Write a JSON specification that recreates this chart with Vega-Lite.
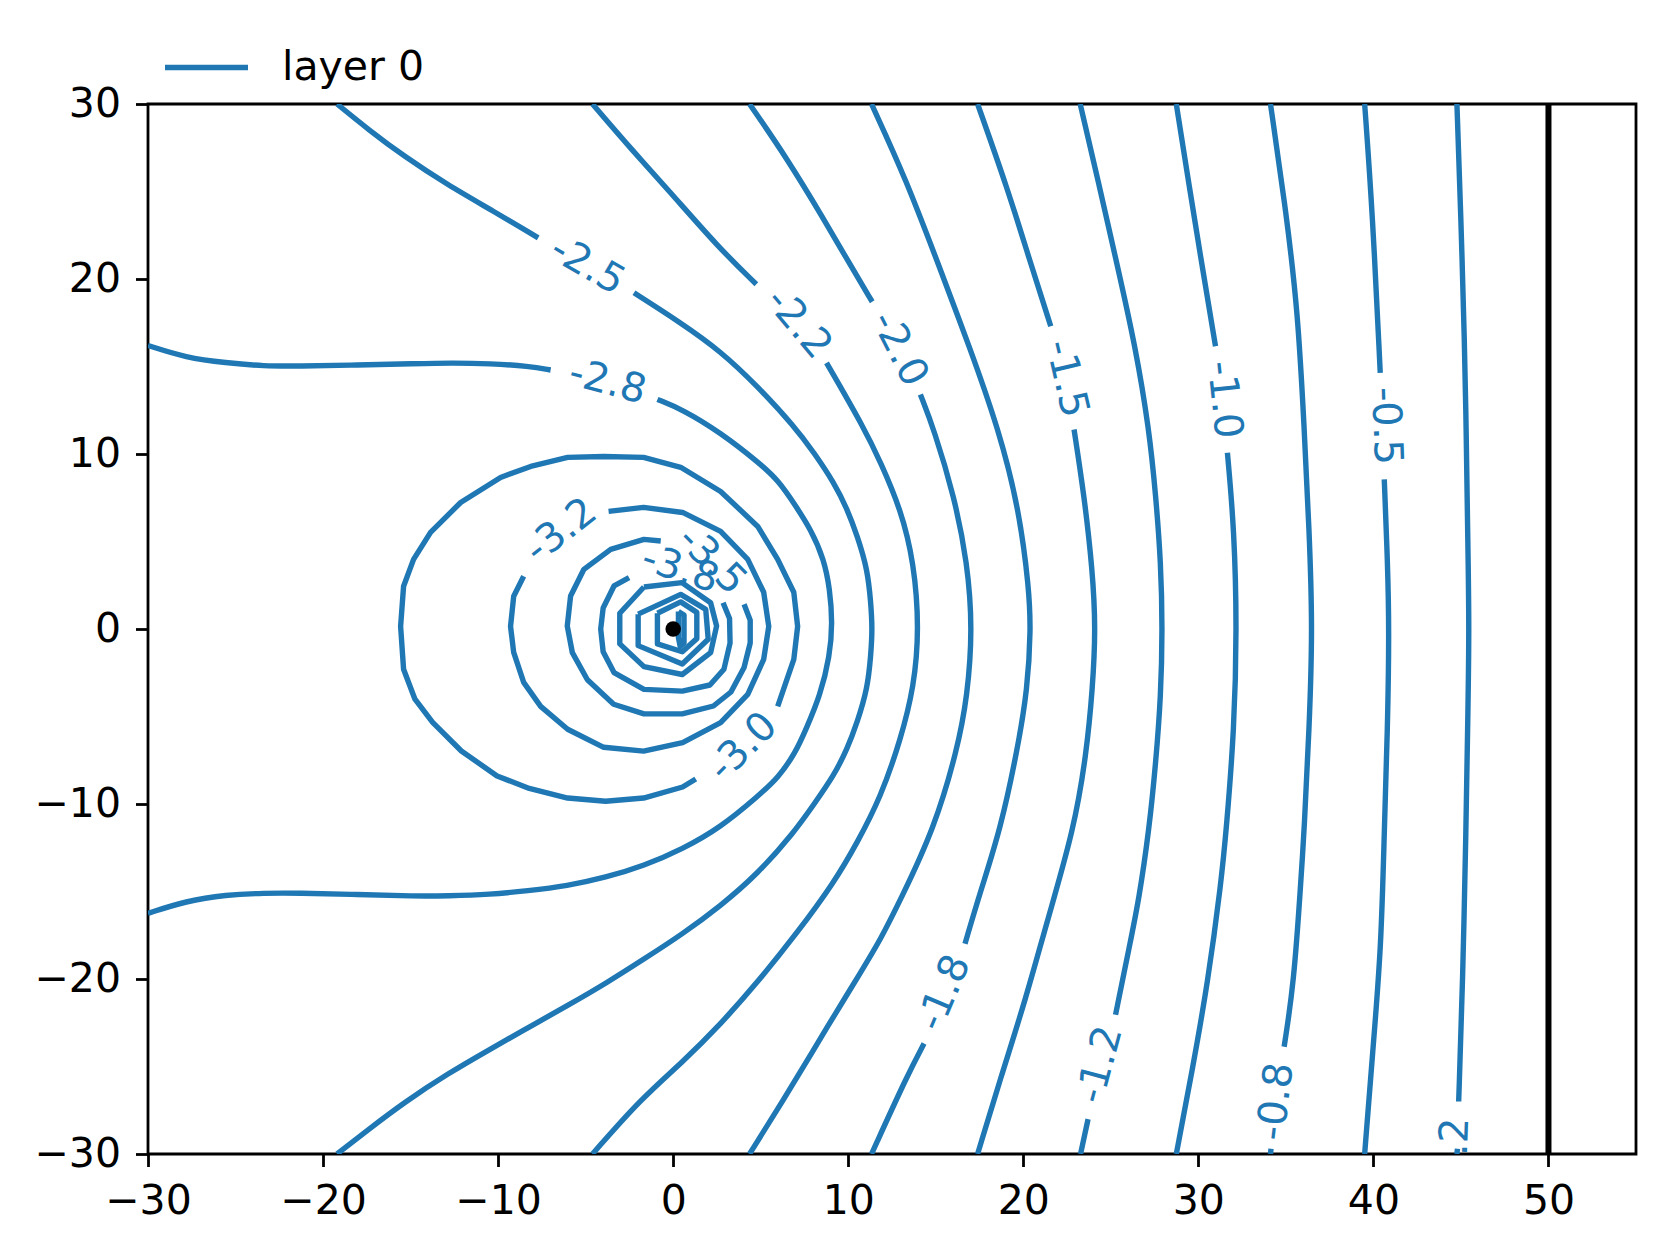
{
"$schema": "https://vega.github.io/schema/vega-lite/v6.json",
"width": 1488, "height": 1050,
"autosize": {"type": "none"},
"padding": {"left": 148, "top": 104, "right": 29, "bottom": 102},
"background": "white",
"config": {
  "view": {"stroke": "black", "strokeWidth": 2.8},
  "axis": {"domain": false, "grid": false, "tickColor": "black", "tickWidth": 2.8, "tickSize": 12.5, "labelFont": "DejaVu Sans", "labelFontSize": 41, "labelColor": "black", "labelPadding": 15, "title": null, "labelFlush": false, "labelOverlap": false, "labelBound": false},
  "text": {"font": "DejaVu Sans", "fontSize": 40, "color": "#1f77b4", "align": "center", "baseline": "middle"}
},
"datasets": {
"lines": [
{"seg":"L02a","i":0,"x":44.77,"y":30},{"seg":"L02a","i":1,"x":44.99,"y":23.78},{"seg":"L02a","i":2,"x":45.21,"y":16.16},{"seg":"L02a","i":3,"x":45.3,"y":11.4},{"seg":"L02a","i":4,"x":45.38,"y":5.69},{"seg":"L02a","i":5,"x":45.48,"y":0},{"seg":"L02a","i":6,"x":45.38,"y":-5.73},{"seg":"L02a","i":7,"x":45.29,"y":-11.44},{"seg":"L02a","i":8,"x":45.1,"y":-20.22},{"seg":"L02a","i":9,"x":44.87,"y":-27.0},
{"seg":"L02b","i":0,"x":44.8,"y":-29.7},{"seg":"L02b","i":1,"x":44.77,"y":-30},
{"seg":"L05a","i":0,"x":39.5,"y":30},{"seg":"L05a","i":1,"x":39.95,"y":23.78},{"seg":"L05a","i":2,"x":40.39,"y":14.64},
{"seg":"L05b","i":0,"x":40.62,"y":8.55},{"seg":"L05b","i":1,"x":40.81,"y":3.79},{"seg":"L05b","i":2,"x":40.9,"y":0},{"seg":"L05b","i":3,"x":40.81,"y":-5.73},{"seg":"L05b","i":4,"x":40.62,"y":-11.44},{"seg":"L05b","i":5,"x":40.45,"y":-18.19},{"seg":"L05b","i":6,"x":39.95,"y":-24.27},{"seg":"L05b","i":7,"x":39.5,"y":-30},
{"seg":"L08a","i":0,"x":34.12,"y":30},{"seg":"L08a","i":1,"x":35.02,"y":23.78},{"seg":"L08a","i":2,"x":35.69,"y":18.07},{"seg":"L08a","i":3,"x":36.05,"y":11.4},{"seg":"L08a","i":4,"x":36.33,"y":5.69},{"seg":"L08a","i":5,"x":36.53,"y":0},{"seg":"L08a","i":6,"x":36.33,"y":-5.73},{"seg":"L08a","i":7,"x":36.05,"y":-11.44},{"seg":"L08a","i":8,"x":35.85,"y":-14.5},{"seg":"L08a","i":9,"x":35.46,"y":-20.22},{"seg":"L08a","i":10,"x":34.9,"y":-23.87},
{"seg":"L08b","i":0,"x":34.15,"y":-29.7},{"seg":"L08b","i":1,"x":34.12,"y":-30},
{"seg":"L10a","i":0,"x":28.74,"y":30},{"seg":"L10a","i":1,"x":29.42,"y":25.68},{"seg":"L10a","i":2,"x":30.09,"y":21.5},{"seg":"L10a","i":3,"x":30.98,"y":16.16},
{"seg":"L10b","i":0,"x":31.66,"y":10.07},{"seg":"L10b","i":1,"x":32.05,"y":5.69},{"seg":"L10b","i":2,"x":32.2,"y":0},{"seg":"L10b","i":3,"x":32.05,"y":-5.73},{"seg":"L10b","i":4,"x":31.6,"y":-11.44},{"seg":"L10b","i":5,"x":31.3,"y":-14.5},{"seg":"L10b","i":6,"x":30.54,"y":-20.22},{"seg":"L10b","i":7,"x":29.64,"y":-25.28},{"seg":"L10b","i":8,"x":28.74,"y":-30},
{"seg":"L12a","i":0,"x":23.25,"y":30},{"seg":"L12a","i":1,"x":24.26,"y":25.68},{"seg":"L12a","i":2,"x":25.38,"y":20.73},{"seg":"L12a","i":3,"x":26.4,"y":16.16},{"seg":"L12a","i":4,"x":27.19,"y":11.4},{"seg":"L12a","i":5,"x":27.57,"y":7.6},{"seg":"L12a","i":6,"x":27.86,"y":3.79},{"seg":"L12a","i":7,"x":27.95,"y":0},{"seg":"L12a","i":8,"x":27.86,"y":-3.82},{"seg":"L12a","i":9,"x":27.57,"y":-7.63},{"seg":"L12a","i":10,"x":27.19,"y":-11.44},{"seg":"L12a","i":11,"x":26.6,"y":-15.5},{"seg":"L12a","i":12,"x":26.05,"y":-18.19},{"seg":"L12a","i":13,"x":25.27,"y":-22.04},
{"seg":"L12b","i":0,"x":23.7,"y":-28.01},{"seg":"L12b","i":1,"x":23.27,"y":-30},
{"seg":"L15a","i":0,"x":17.39,"y":30},{"seg":"L15a","i":1,"x":19.12,"y":25.11},{"seg":"L15a","i":2,"x":20.35,"y":21.11},{"seg":"L15a","i":3,"x":21.57,"y":17.3},
{"seg":"L15b","i":0,"x":22.9,"y":11.4},{"seg":"L15b","i":1,"x":23.48,"y":7.6},{"seg":"L15b","i":2,"x":23.95,"y":3.41},{"seg":"L15b","i":3,"x":24.14,"y":0},{"seg":"L15b","i":4,"x":23.95,"y":-3.5},{"seg":"L15b","i":5,"x":23.61,"y":-7.08},{"seg":"L15b","i":6,"x":22.9,"y":-11.44},{"seg":"L15b","i":7,"x":21.37,"y":-16.66},{"seg":"L15b","i":8,"x":20.14,"y":-21.15},{"seg":"L15b","i":9,"x":18.71,"y":-25.64},{"seg":"L15b","i":10,"x":17.39,"y":-30},
{"seg":"L18a","i":0,"x":11.33,"y":30},{"seg":"L18a","i":1,"x":13.3,"y":25.7},{"seg":"L18a","i":2,"x":15.2,"y":20.7},{"seg":"L18a","i":3,"x":16.9,"y":16.2},{"seg":"L18a","i":4,"x":18.6,"y":11.4},{"seg":"L18a","i":5,"x":19.76,"y":6.84},{"seg":"L18a","i":6,"x":20.33,"y":2.27},{"seg":"L18a","i":7,"x":20.43,"y":0},{"seg":"L18a","i":8,"x":20.24,"y":-3.44},{"seg":"L18a","i":9,"x":19.67,"y":-6.87},{"seg":"L18a","i":10,"x":18.7,"y":-11.44},{"seg":"L18a","i":11,"x":17.55,"y":-15.0},{"seg":"L18a","i":12,"x":16.67,"y":-17.98},
{"seg":"L18b","i":0,"x":14.33,"y":-23.69},{"seg":"L18b","i":1,"x":13.41,"y":-25.43},{"seg":"L18b","i":2,"x":11.33,"y":-30},
{"seg":"L20a","i":0,"x":4.36,"y":30},{"seg":"L20a","i":1,"x":6.5,"y":26.9},{"seg":"L20a","i":2,"x":8.62,"y":23.4},{"seg":"L20a","i":3,"x":10.0,"y":21.0},{"seg":"L20a","i":4,"x":11.37,"y":18.7},
{"seg":"L20b","i":0,"x":14.12,"y":13.4},{"seg":"L20b","i":1,"x":14.9,"y":11.4},{"seg":"L20b","i":2,"x":16.05,"y":7.6},{"seg":"L20b","i":3,"x":16.81,"y":3.79},{"seg":"L20b","i":4,"x":17.1,"y":0},{"seg":"L20b","i":5,"x":16.81,"y":-3.82},{"seg":"L20b","i":6,"x":16.24,"y":-6.87},{"seg":"L20b","i":7,"x":14.9,"y":-11.44},{"seg":"L20b","i":8,"x":13.0,"y":-15.44},{"seg":"L20b","i":9,"x":11.86,"y":-17.72},{"seg":"L20b","i":10,"x":10.71,"y":-19.62},{"seg":"L20b","i":11,"x":9.19,"y":-22.1},{"seg":"L20b","i":12,"x":8.05,"y":-24.0},{"seg":"L20b","i":13,"x":6.33,"y":-26.86},{"seg":"L20b","i":14,"x":4.36,"y":-30},
{"seg":"L22a","i":0,"x":-4.61,"y":30},{"seg":"L22a","i":1,"x":-2.31,"y":27.32},{"seg":"L22a","i":2,"x":-0.26,"y":25.07},{"seg":"L22a","i":3,"x":2.59,"y":21.8},{"seg":"L22a","i":4,"x":4.75,"y":19.7},
{"seg":"L22b","i":0,"x":8.76,"y":15.21},{"seg":"L22b","i":1,"x":10.9,"y":11.5},{"seg":"L22b","i":2,"x":11.86,"y":9.5},{"seg":"L22b","i":3,"x":13.0,"y":6.84},{"seg":"L22b","i":4,"x":13.76,"y":3.79},{"seg":"L22b","i":5,"x":14.05,"y":0},{"seg":"L22b","i":6,"x":13.76,"y":-3.3},{"seg":"L22b","i":7,"x":13.0,"y":-6.3},{"seg":"L22b","i":8,"x":11.86,"y":-9.6},{"seg":"L22b","i":9,"x":10.52,"y":-12.2},{"seg":"L22b","i":10,"x":9.19,"y":-14.49},{"seg":"L22b","i":11,"x":7.1,"y":-17.34},{"seg":"L22b","i":12,"x":4.81,"y":-20.2},{"seg":"L22b","i":13,"x":2.71,"y":-22.58},{"seg":"L22b","i":14,"x":0.52,"y":-24.77},{"seg":"L22b","i":15,"x":-1.86,"y":-26.86},{"seg":"L22b","i":16,"x":-4.61,"y":-30},
{"seg":"L25a","i":0,"x":-19.2,"y":30},{"seg":"L25a","i":1,"x":-17.41,"y":28.54},{"seg":"L25a","i":2,"x":-15.37,"y":27.01},{"seg":"L25a","i":3,"x":-12.92,"y":25.4},{"seg":"L25a","i":4,"x":-10.26,"y":23.87},{"seg":"L25a","i":5,"x":-7.71,"y":22.35},
{"seg":"L25b","i":0,"x":-2.24,"y":19.21},{"seg":"L25b","i":1,"x":0.43,"y":17.5},{"seg":"L25b","i":2,"x":2.71,"y":15.88},{"seg":"L25b","i":3,"x":4.81,"y":13.88},{"seg":"L25b","i":4,"x":6.9,"y":11.6},{"seg":"L25b","i":5,"x":8.05,"y":10.07},{"seg":"L25b","i":6,"x":9.19,"y":8.36},{"seg":"L25b","i":7,"x":9.95,"y":6.84},{"seg":"L25b","i":8,"x":10.52,"y":5.31},{"seg":"L25b","i":9,"x":11.1,"y":3.41},{"seg":"L25b","i":10,"x":11.29,"y":1.5},{"seg":"L25b","i":11,"x":11.38,"y":0},{"seg":"L25b","i":12,"x":11.29,"y":-1.5},{"seg":"L25b","i":13,"x":11.1,"y":-3.41},{"seg":"L25b","i":14,"x":10.52,"y":-5.31},{"seg":"L25b","i":15,"x":9.95,"y":-6.84},{"seg":"L25b","i":16,"x":9.19,"y":-8.36},{"seg":"L25b","i":17,"x":8.05,"y":-10.0},{"seg":"L25b","i":18,"x":6.9,"y":-11.63},{"seg":"L25b","i":19,"x":4.81,"y":-14.01},{"seg":"L25b","i":20,"x":2.71,"y":-15.82},{"seg":"L25b","i":21,"x":0.52,"y":-17.44},{"seg":"L25b","i":22,"x":-1.67,"y":-18.86},{"seg":"L25b","i":23,"x":-3.76,"y":-20.2},{"seg":"L25b","i":24,"x":-6.05,"y":-21.53},{"seg":"L25b","i":25,"x":-8.22,"y":-22.74},{"seg":"L25b","i":26,"x":-10.26,"y":-23.9},{"seg":"L25b","i":27,"x":-12.92,"y":-25.43},{"seg":"L25b","i":28,"x":-15.37,"y":-27.06},{"seg":"L25b","i":29,"x":-17.41,"y":-28.6},{"seg":"L25b","i":30,"x":-19.2,"y":-30},
{"seg":"L28a","i":0,"x":-30,"y":16.2},{"seg":"L28a","i":1,"x":-27.82,"y":15.5},{"seg":"L28a","i":2,"x":-25.57,"y":15.21},{"seg":"L28a","i":3,"x":-23.33,"y":15.02},{"seg":"L28a","i":4,"x":-21.49,"y":15.02},{"seg":"L28a","i":5,"x":-18.02,"y":15.08},{"seg":"L28a","i":6,"x":-14.75,"y":15.16},{"seg":"L28a","i":7,"x":-12.71,"y":15.21},{"seg":"L28a","i":8,"x":-10.47,"y":15.17},{"seg":"L28a","i":9,"x":-8.22,"y":15.02},{"seg":"L28a","i":10,"x":-7.0,"y":14.8},
{"seg":"L28b","i":0,"x":-0.9,"y":13.12},{"seg":"L28b","i":1,"x":0.52,"y":12.55},{"seg":"L28b","i":2,"x":2.71,"y":11.22},{"seg":"L28b","i":3,"x":4.9,"y":9.5},{"seg":"L28b","i":4,"x":6.0,"y":8.5},{"seg":"L28b","i":5,"x":7.0,"y":7.03},{"seg":"L28b","i":6,"x":7.86,"y":5.69},{"seg":"L28b","i":7,"x":8.62,"y":3.98},{"seg":"L28b","i":8,"x":8.95,"y":2.27},{"seg":"L28b","i":9,"x":9.1,"y":0.36},{"seg":"L28b","i":10,"x":8.95,"y":-1.54},{"seg":"L28b","i":11,"x":8.4,"y":-3.8},{"seg":"L28b","i":12,"x":7.6,"y":-5.7},{"seg":"L28b","i":13,"x":7.0,"y":-7.05},{"seg":"L28b","i":14,"x":6.0,"y":-8.5},{"seg":"L28b","i":15,"x":4.9,"y":-9.5},{"seg":"L28b","i":16,"x":2.71,"y":-11.34},{"seg":"L28b","i":17,"x":0.52,"y":-12.58},{"seg":"L28b","i":18,"x":-1.67,"y":-13.53},{"seg":"L28b","i":19,"x":-3.86,"y":-14.2},{"seg":"L28b","i":20,"x":-6.05,"y":-14.68},{"seg":"L28b","i":21,"x":-8.33,"y":-14.96},{"seg":"L28b","i":22,"x":-10.45,"y":-15.17},{"seg":"L28b","i":23,"x":-12.9,"y":-15.25},{"seg":"L28b","i":24,"x":-14.75,"y":-15.27},{"seg":"L28b","i":25,"x":-18.03,"y":-15.17},{"seg":"L28b","i":26,"x":-21.49,"y":-15.09},{"seg":"L28b","i":27,"x":-23.33,"y":-15.09},{"seg":"L28b","i":28,"x":-25.57,"y":-15.19},{"seg":"L28b","i":29,"x":-27.82,"y":-15.54},{"seg":"L28b","i":30,"x":-30,"y":-16.25}
],
"rings": [
{"seg":"L30","i":0,"x":5.97,"y":-4.42},{"seg":"L30","i":1,"x":6.89,"y":-1.74},{"seg":"L30","i":2,"x":7.11,"y":0.15},{"seg":"L30","i":3,"x":6.89,"y":2.1},{"seg":"L30","i":4,"x":5.97,"y":3.98},{"seg":"L30","i":5,"x":4.83,"y":5.86},{"seg":"L30","i":6,"x":2.71,"y":7.86},{"seg":"L30","i":7,"x":0.43,"y":9.24},{"seg":"L30","i":8,"x":-1.69,"y":9.81},{"seg":"L30","i":9,"x":-3.97,"y":9.86},{"seg":"L30","i":10,"x":-6.03,"y":9.81},{"seg":"L30","i":11,"x":-8.14,"y":9.29},{"seg":"L30","i":12,"x":-9.86,"y":8.66},{"seg":"L30","i":13,"x":-12.14,"y":7.23},{"seg":"L30","i":14,"x":-13.86,"y":5.52},{"seg":"L30","i":15,"x":-14.83,"y":3.98},{"seg":"L30","i":16,"x":-15.4,"y":2.44},{"seg":"L30","i":17,"x":-15.57,"y":0.15},{"seg":"L30","i":18,"x":-15.4,"y":-2.3},{"seg":"L30","i":19,"x":-14.75,"y":-4.01},{"seg":"L30","i":20,"x":-13.74,"y":-5.34},{"seg":"L30","i":21,"x":-12.1,"y":-6.97},{"seg":"L30","i":22,"x":-10.06,"y":-8.4},{"seg":"L30","i":23,"x":-8.22,"y":-9.11},{"seg":"L30","i":24,"x":-6.03,"y":-9.66},{"seg":"L30","i":25,"x":-3.86,"y":-9.84},{"seg":"L30","i":26,"x":-1.69,"y":-9.66},{"seg":"L30","i":27,"x":0.54,"y":-9.03},{"seg":"L30","i":28,"x":1.29,"y":-8.57},
{"seg":"L32","i":0,"x":-3.69,"y":6.72},{"seg":"L32","i":1,"x":-1.69,"y":6.95},{"seg":"L32","i":2,"x":0.54,"y":6.66},{"seg":"L32","i":3,"x":2.71,"y":5.58},{"seg":"L32","i":4,"x":4.26,"y":3.98},{"seg":"L32","i":5,"x":5.17,"y":2.1},{"seg":"L32","i":6,"x":5.46,"y":0.15},{"seg":"L32","i":7,"x":5.17,"y":-1.74},{"seg":"L32","i":8,"x":4.26,"y":-3.73},{"seg":"L32","i":9,"x":2.71,"y":-5.35},{"seg":"L32","i":10,"x":0.54,"y":-6.49},{"seg":"L32","i":11,"x":-1.69,"y":-6.98},{"seg":"L32","i":12,"x":-3.97,"y":-6.76},{"seg":"L32","i":13,"x":-6.03,"y":-5.73},{"seg":"L32","i":14,"x":-7.57,"y":-4.42},{"seg":"L32","i":15,"x":-8.54,"y":-3.05},{"seg":"L32","i":16,"x":-9.11,"y":-1.34},{"seg":"L32","i":17,"x":-9.29,"y":0.15},{"seg":"L32","i":18,"x":-9.11,"y":1.87},{"seg":"L32","i":19,"x":-8.54,"y":3.01},
{"seg":"L35","i":0,"x":4.05,"y":1.41},{"seg":"L35","i":1,"x":4.4,"y":0.5},{"seg":"L35","i":2,"x":4.4,"y":-0.8},{"seg":"L35","i":3,"x":4.05,"y":-2.2},{"seg":"L35","i":4,"x":3.3,"y":-3.6},{"seg":"L35","i":5,"x":2.3,"y":-4.4},{"seg":"L35","i":6,"x":0.52,"y":-4.85},{"seg":"L35","i":7,"x":-1.67,"y":-4.85},{"seg":"L35","i":8,"x":-3.4,"y":-4.3},{"seg":"L35","i":9,"x":-4.9,"y":-2.9},{"seg":"L35","i":10,"x":-5.76,"y":-1.35},{"seg":"L35","i":11,"x":-6.05,"y":0.17},{"seg":"L35","i":12,"x":-5.86,"y":1.89},{"seg":"L35","i":13,"x":-5.1,"y":3.41},{"seg":"L35","i":14,"x":-3.57,"y":4.55},{"seg":"L35","i":15,"x":-1.67,"y":5.12},{"seg":"L35","i":16,"x":-0.71,"y":5.03},
{"seg":"L38","i":0,"x":2.85,"y":1.5},{"seg":"L38","i":1,"x":3.22,"y":0.6},{"seg":"L38","i":2,"x":3.25,"y":-0.8},{"seg":"L38","i":3,"x":2.9,"y":-2.3},{"seg":"L38","i":4,"x":2.1,"y":-3.2},{"seg":"L38","i":5,"x":0.52,"y":-3.55},{"seg":"L38","i":6,"x":-1.67,"y":-3.45},{"seg":"L38","i":7,"x":-3.38,"y":-2.49},{"seg":"L38","i":8,"x":-4.0,"y":-1.3},{"seg":"L38","i":9,"x":-4.14,"y":0.0},{"seg":"L38","i":10,"x":-4.0,"y":1.2},{"seg":"L38","i":11,"x":-3.38,"y":2.46},{"seg":"L38","i":12,"x":-2.52,"y":2.93},
{"seg":"L40","i":0,"x":-1.67,"y":2.4},{"seg":"L40","i":1,"x":0.5,"y":2.65},{"seg":"L40","i":2,"x":2.14,"y":1.5},{"seg":"L40","i":3,"x":2.48,"y":0.17},{"seg":"L40","i":4,"x":2.14,"y":-1.35},{"seg":"L40","i":5,"x":0.52,"y":-2.6},{"seg":"L40","i":6,"x":-1.67,"y":-2.15},{"seg":"L40","i":7,"x":-3.05,"y":-0.85},{"seg":"L40","i":8,"x":-3.05,"y":0.9},{"seg":"L40","i":9,"x":-1.67,"y":2.4},
{"seg":"L425","i":0,"x":-2.0,"y":0.85},{"seg":"L425","i":1,"x":0.43,"y":1.98},{"seg":"L425","i":2,"x":1.86,"y":1.12},{"seg":"L425","i":3,"x":2.0,"y":-0.59},{"seg":"L425","i":4,"x":0.52,"y":-2.0},{"seg":"L425","i":5,"x":-2.0,"y":-0.95},{"seg":"L425","i":6,"x":-2.0,"y":0.85},
{"seg":"L45","i":0,"x":-0.9,"y":0.9},{"seg":"L45","i":1,"x":0.43,"y":1.55},{"seg":"L45","i":2,"x":1.35,"y":0.95},{"seg":"L45","i":3,"x":1.35,"y":-0.55},{"seg":"L45","i":4,"x":0.52,"y":-1.3},{"seg":"L45","i":5,"x":-0.9,"y":-0.85},{"seg":"L45","i":6,"x":-0.9,"y":0.9},
{"seg":"L475","i":0,"x":0.3,"y":1.0},{"seg":"L475","i":1,"x":0.62,"y":0.8},{"seg":"L475","i":2,"x":0.62,"y":-0.8},{"seg":"L475","i":3,"x":0.4,"y":-1.0},{"seg":"L475","i":4,"x":0.3,"y":-0.5},{"seg":"L475","i":5,"x":0.3,"y":1.0}
],
"labels": [
{"label":"-2.5","x":-4.9,"y":20.75},
{"label":"-2.8","x":-3.75,"y":14.1},
{"label":"-2.2","x":7.15,"y":17.45},
{"label":"-2.0","x":12.9,"y":16.0},
{"label":"-1.5","x":22.45,"y":14.3},
{"label":"-1.0","x":31.45,"y":13.1},
{"label":"-0.5","x":40.7,"y":11.6},
{"label":"-3.2","x":-6.4,"y":5.6},
{"label":"-3.0","x":4.0,"y":-6.75},
{"label":"-3.5","x":2.2,"y":3.9},
{"label":"-3.8","x":0.4,"y":3.4},
{"label":"-1.8","x":15.5,"y":-20.8},
{"label":"-1.2","x":24.4,"y":-24.9},
{"label":"-0.8","x":34.45,"y":-27.0},
{"label":"-0.2","x":44.65,"y":-30.15}
],
"src": [{"x":0,"y":0}],
"wall": [{"x":50}]
},
"layer": [
{"data":{"name":"lines"},
 "mark":{"type":"line","strokeWidth":5.4,"clip":true,"strokeCap":"butt","strokeJoin":"round","interpolate":"basis"},
 "encoding":{
  "x":{"field":"x","type":"quantitative","scale":{"domain":[-30,55],"nice":false,"zero":false},
       "axis":{"values":[-30,-20,-10,0,10,20,30,40,50],"labelExpr":"datum.value < 0 ? '−' + (-datum.value) : '' + datum.value"}},
  "y":{"field":"y","type":"quantitative","scale":{"domain":[-30,30],"nice":false,"zero":false},
       "axis":{"values":[-30,-20,-10,0,10,20,30],"labelExpr":"datum.value < 0 ? '−' + (-datum.value) : '' + datum.value"}},
  "detail":{"field":"seg"},
  "order":{"field":"i","type":"quantitative"},
  "color":{"datum":"layer 0","type":"nominal","scale":{"range":["#1f77b4"]},
    "legend":{"orient":"none","legendX":14,"legendY":-81,"title":null,"symbolType":"stroke","symbolSize":6889,"symbolStrokeWidth":5.4,"labelFontSize":41,"labelFont":"DejaVu Sans","labelColor":"black","labelOffset":31,"padding":0}}
 }},
{"data":{"name":"rings"},
 "mark":{"type":"line","strokeWidth":5.4,"clip":true,"strokeCap":"butt","strokeJoin":"round"},
 "encoding":{
  "x":{"field":"x","type":"quantitative"},
  "y":{"field":"y","type":"quantitative"},
  "detail":{"field":"seg"},
  "order":{"field":"i","type":"quantitative"},
  "color":{"datum":"layer 0","type":"nominal"}
 }},
{"data":{"name":"wall"},"mark":{"type":"rule","color":"black","strokeWidth":6},"encoding":{"x":{"field":"x","type":"quantitative"}}},
{"data":{"name":"src"},"mark":{"type":"point","filled":true,"color":"black","size":240,"opacity":1},"encoding":{"x":{"field":"x","type":"quantitative"},"y":{"field":"y","type":"quantitative"}}},
{"data":{"name":"labels"},"transform":[{"filter":"datum.label === '-2.5'"}],"mark":{"type":"text","angle":30,"clip":true},"encoding":{"x":{"field":"x","type":"quantitative"},"y":{"field":"y","type":"quantitative"},"text":{"field":"label"}}},
{"data":{"name":"labels"},"transform":[{"filter":"datum.label === '-2.8'"}],"mark":{"type":"text","angle":15,"clip":true},"encoding":{"x":{"field":"x","type":"quantitative"},"y":{"field":"y","type":"quantitative"},"text":{"field":"label"}}},
{"data":{"name":"labels"},"transform":[{"filter":"datum.label === '-2.2'"}],"mark":{"type":"text","angle":50,"clip":true},"encoding":{"x":{"field":"x","type":"quantitative"},"y":{"field":"y","type":"quantitative"},"text":{"field":"label"}}},
{"data":{"name":"labels"},"transform":[{"filter":"datum.label === '-2.0'"}],"mark":{"type":"text","angle":63,"clip":true},"encoding":{"x":{"field":"x","type":"quantitative"},"y":{"field":"y","type":"quantitative"},"text":{"field":"label"}}},
{"data":{"name":"labels"},"transform":[{"filter":"datum.label === '-1.5'"}],"mark":{"type":"text","angle":77,"clip":true},"encoding":{"x":{"field":"x","type":"quantitative"},"y":{"field":"y","type":"quantitative"},"text":{"field":"label"}}},
{"data":{"name":"labels"},"transform":[{"filter":"datum.label === '-1.0'"}],"mark":{"type":"text","angle":84,"clip":true},"encoding":{"x":{"field":"x","type":"quantitative"},"y":{"field":"y","type":"quantitative"},"text":{"field":"label"}}},
{"data":{"name":"labels"},"transform":[{"filter":"datum.label === '-0.5'"}],"mark":{"type":"text","angle":88,"clip":true},"encoding":{"x":{"field":"x","type":"quantitative"},"y":{"field":"y","type":"quantitative"},"text":{"field":"label"}}},
{"data":{"name":"labels"},"transform":[{"filter":"datum.label === '-3.2'"}],"mark":{"type":"text","angle":-38,"clip":true},"encoding":{"x":{"field":"x","type":"quantitative"},"y":{"field":"y","type":"quantitative"},"text":{"field":"label"}}},
{"data":{"name":"labels"},"transform":[{"filter":"datum.label === '-3.0'"}],"mark":{"type":"text","angle":-45,"clip":true},"encoding":{"x":{"field":"x","type":"quantitative"},"y":{"field":"y","type":"quantitative"},"text":{"field":"label"}}},
{"data":{"name":"labels"},"transform":[{"filter":"datum.label === '-3.5'"}],"mark":{"type":"text","angle":45,"clip":true},"encoding":{"x":{"field":"x","type":"quantitative"},"y":{"field":"y","type":"quantitative"},"text":{"field":"label"}}},
{"data":{"name":"labels"},"transform":[{"filter":"datum.label === '-3.8'"}],"mark":{"type":"text","angle":18,"clip":true},"encoding":{"x":{"field":"x","type":"quantitative"},"y":{"field":"y","type":"quantitative"},"text":{"field":"label"}}},
{"data":{"name":"labels"},"transform":[{"filter":"datum.label === '-1.8'"}],"mark":{"type":"text","angle":-67,"clip":true},"encoding":{"x":{"field":"x","type":"quantitative"},"y":{"field":"y","type":"quantitative"},"text":{"field":"label"}}},
{"data":{"name":"labels"},"transform":[{"filter":"datum.label === '-1.2'"}],"mark":{"type":"text","angle":-75,"clip":true},"encoding":{"x":{"field":"x","type":"quantitative"},"y":{"field":"y","type":"quantitative"},"text":{"field":"label"}}},
{"data":{"name":"labels"},"transform":[{"filter":"datum.label === '-0.8'"}],"mark":{"type":"text","angle":-83,"clip":true},"encoding":{"x":{"field":"x","type":"quantitative"},"y":{"field":"y","type":"quantitative"},"text":{"field":"label"}}},
{"data":{"name":"labels"},"transform":[{"filter":"datum.label === '-0.2'"}],"mark":{"type":"text","angle":-88,"clip":true},"encoding":{"x":{"field":"x","type":"quantitative"},"y":{"field":"y","type":"quantitative"},"text":{"field":"label"}}}
]
}
